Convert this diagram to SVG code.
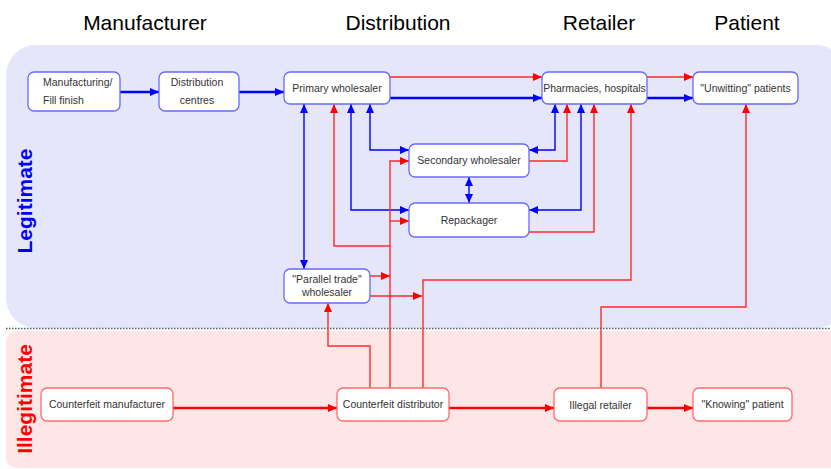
<svg xmlns="http://www.w3.org/2000/svg" width="831" height="469" viewBox="0 0 831 469">
<style>
.title{font-family:"Liberation Sans",Arial,sans-serif;font-size:21px;fill:#000;text-anchor:middle}
.lbl{font-family:"Liberation Sans",Arial,sans-serif;font-size:10.5px;fill:#333;text-anchor:middle}
.side{font-family:"Liberation Sans",Arial,sans-serif;font-size:21px;font-weight:bold;text-anchor:middle}
.nb{fill:#fff;stroke:#6a6aff;stroke-width:1.3}
.nr{fill:#fff;stroke:#ff6a6a;stroke-width:1.3}
.b{fill:none;stroke:#0000ff;stroke-width:1.4}
.bt{fill:none;stroke:#0000ff;stroke-width:2.4}
.r{fill:none;stroke:#ff2a2a;stroke-width:1.4}
.rt{fill:none;stroke:#ff0000;stroke-width:2.4}
</style>
<defs>
<marker id="ab" markerWidth="9" markerHeight="8" refX="9" refY="4" orient="auto-start-reverse" markerUnits="userSpaceOnUse"><path d="M0,0 L9,4 L0,8 Z" fill="#0000ff"/></marker>
<marker id="ar" markerWidth="9" markerHeight="8" refX="9" refY="4" orient="auto-start-reverse" markerUnits="userSpaceOnUse"><path d="M0,0 L9,4 L0,8 Z" fill="#ff0000"/></marker>
</defs>
<rect width="831" height="469" fill="#fff"/>
<g id="panels">
<rect x="6" y="45" width="840" height="283" rx="30" fill="#e6e6fb"/>
<rect x="6" y="331" width="840" height="137" rx="10" fill="#ffe6e6"/>
<line x1="6" y1="328.5" x2="831" y2="328.5" stroke="#555" stroke-width="1.3" stroke-dasharray="1.5,1.5"/>
</g>
<g id="titles">
<text class="title" x="145" y="30">Manufacturer</text>
<text class="title" x="398" y="30">Distribution</text>
<text class="title" x="599" y="30">Retailer</text>
<text class="title" x="747" y="30">Patient</text>
<text class="side" fill="#0000ff" transform="translate(32,201) rotate(-90)">Legitimate</text>
<text class="side" fill="#ff0000" transform="translate(32,399) rotate(-90)">Illegitimate</text>
</g>
<g id="connectors">
<path class="bt" d="M120,92 H159" marker-end="url(#ab)"/>
<path class="bt" d="M239,92 H284" marker-end="url(#ab)"/>
<path class="bt" d="M390,98 H542" marker-end="url(#ab)"/>
<path class="bt" d="M647,98 H693" marker-end="url(#ab)"/>
<path class="r" d="M390,77 H542" marker-end="url(#ar)"/>
<path class="r" d="M647,77 H693" marker-end="url(#ar)"/>
<path class="b" d="M304,104 V269" marker-start="url(#ab)" marker-end="url(#ab)"/>
<path class="b" d="M351,104 V210 H409" marker-start="url(#ab)" marker-end="url(#ab)"/>
<path class="b" d="M370,104 V150 H409" marker-start="url(#ab)" marker-end="url(#ab)"/>
<path class="b" d="M529,150 H555 V104" marker-start="url(#ab)" marker-end="url(#ab)"/>
<path class="b" d="M529,210 H581 V104" marker-start="url(#ab)" marker-end="url(#ab)"/>
<path class="b" d="M469,177 V203" marker-start="url(#ab)" marker-end="url(#ab)"/>
<path class="r" d="M529,161 H567 V104" marker-end="url(#ar)"/>
<path class="r" d="M529,232 H594 V104" marker-end="url(#ar)"/>
<path class="r" d="M390,388 V161 H409" marker-end="url(#ar)"/>
<path class="r" d="M390,221 H409" marker-end="url(#ar)"/>
<path class="r" d="M390,246 H334 V104" marker-end="url(#ar)"/>
<path class="r" d="M370,276 H390" marker-end="url(#ar)"/>
<path class="r" d="M370,296 H422" marker-end="url(#ar)"/>
<path class="r" d="M423,388 V280 H631 V104" marker-end="url(#ar)"/>
<path class="r" d="M370,388 V346 H328 V303" marker-end="url(#ar)"/>
<path class="r" d="M601,388 V307 H746 V104" marker-end="url(#ar)"/>
<path class="rt" d="M173,408 H337" marker-end="url(#ar)"/>
<path class="rt" d="M449,408 H554" marker-end="url(#ar)"/>
<path class="rt" d="M647,408 H693" marker-end="url(#ar)"/>
</g>
<g id="n-manufacturing"><rect class="nb" x="28" y="72" width="92" height="39" rx="6"/><text class="lbl" x="43" y="86" style="text-anchor:start">Manufacturing/</text><text class="lbl" x="43" y="104" style="text-anchor:start">Fill finish</text></g>
<g id="n-distribution"><rect class="nb" x="159" y="72" width="80" height="39" rx="6"/><text class="lbl" x="197" y="86">Distribution</text><text class="lbl" x="197" y="104">centres</text></g>
<g id="n-primary"><rect class="nb" x="284" y="72" width="106" height="32" rx="6"/><text class="lbl" x="337" y="92">Primary wholesaler</text></g>
<g id="n-pharmacies"><rect class="nb" x="542" y="72" width="105" height="32" rx="6"/><text class="lbl" x="594.5" y="92">Pharmacies, hospitals</text></g>
<g id="n-unwitting"><rect class="nb" x="693" y="72" width="105" height="32" rx="6"/><text class="lbl" x="745.5" y="92">"Unwitting" patients</text></g>
<g id="n-secondary"><rect class="nb" x="409" y="144" width="120" height="33" rx="6"/><text class="lbl" x="469" y="164">Secondary wholesaler</text></g>
<g id="n-repackager"><rect class="nb" x="409" y="203" width="120" height="34" rx="6"/><text class="lbl" x="469" y="224">Repackager</text></g>
<g id="n-parallel"><rect class="nb" x="284" y="269" width="86" height="34" rx="6"/><text class="lbl" x="327" y="283">"Parallel trade"</text><text class="lbl" x="327" y="296">wholesaler</text></g>
<g id="n-cf-manufacturer"><rect class="nr" x="41" y="388" width="132" height="33" rx="6"/><text class="lbl" x="107" y="408">Counterfeit manufacturer</text></g>
<g id="n-cf-distributor"><rect class="nr" x="337" y="388" width="112" height="33" rx="6"/><text class="lbl" x="393" y="408">Counterfeit distributor</text></g>
<g id="n-illegal-retailer"><rect class="nr" x="554" y="388" width="93" height="33" rx="6"/><text class="lbl" x="600.5" y="409">Illegal retailer</text></g>
<g id="n-knowing"><rect class="nr" x="693" y="388" width="99" height="33" rx="6"/><text class="lbl" x="742.5" y="408">"Knowing" patient</text></g>
</svg>
